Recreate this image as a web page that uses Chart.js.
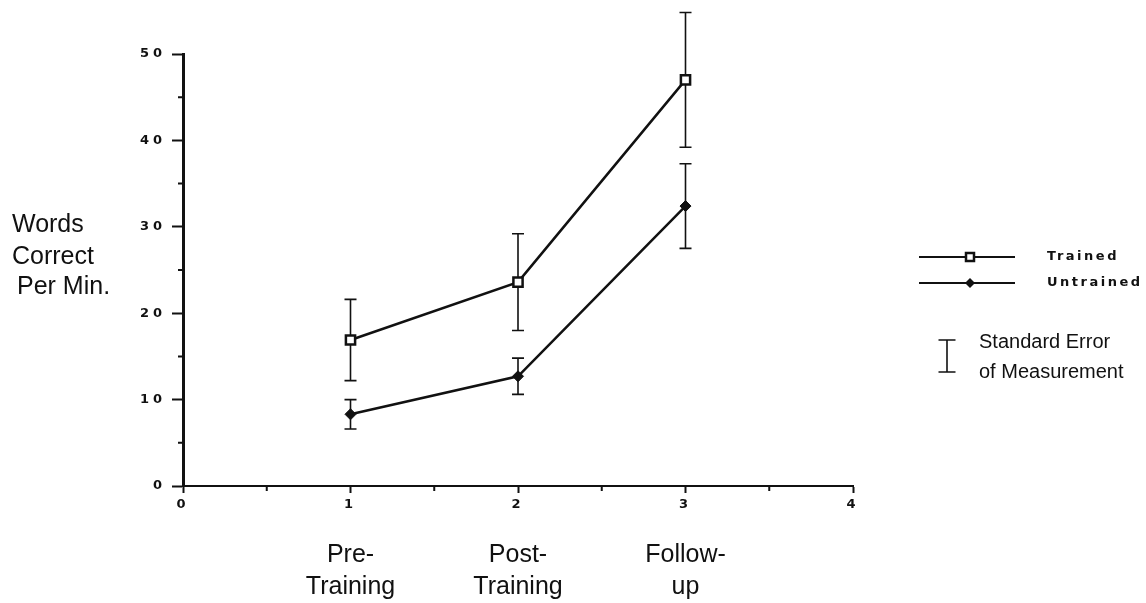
<!DOCTYPE html>
<html>
<head>
<meta charset="utf-8">
<script src="https://cdn.jsdelivr.net/npm/chart.js@4.4.1/dist/chart.umd.min.js"></script>
<style>
  html, body { margin: 0; padding: 0; background: #fff; }
  #wrap { width: 1146px; height: 603px; }
</style>
</head>
<body>
<div id="wrap"><canvas id="words-chart" width="1146" height="603"></canvas></div>
<script>
// Sessions and their phase names
const sessions = [1, 2, 3];
const phaseLabels = [['Pre-', 'Training'], ['Post-', 'Training'], ['Follow-', 'up']];

// Words correct per minute (means and standard errors)
const trainedMeans = [16.9, 23.6, 47.0];
const trainedSE = [4.7, 5.6, 7.8];
const untrainedMeans = [8.3, 12.7, 32.4];
const untrainedSE = [1.7, 2.1, 4.9];

// Axis ticks
const xTicks = [0, 1, 2, 3, 4];
const xMinorTicks = [0.5, 1.5, 2.5, 3.5];
const yTicks = [0, 10, 20, 30, 40, 50];
const yMinorTicks = [5, 15, 25, 35, 45];

const ink = '#111';
const tickFont = { family: '"DejaVu Sans", sans-serif', size: 13, weight: 'bold' };
const textFamily = '"Liberation Sans", Arial, Helvetica, sans-serif';

// vertical bars for the standard error, drawn under the markers
const errorBars = {
    id: 'errorBars',
    beforeDatasetsDraw(chart) {
        const { ctx, scales: { x, y } } = chart;
        ctx.save();
        ctx.strokeStyle = ink;
        ctx.lineWidth = 1.6;
        chart.data.datasets.forEach(ds => {
            ds.data.forEach((pt, i) => {
                const px = x.getPixelForValue(pt.x);
                const top = y.getPixelForValue(pt.y + ds.errors[i]);
                const bot = y.getPixelForValue(pt.y - ds.errors[i]);
                ctx.beginPath();
                ctx.moveTo(px, top); ctx.lineTo(px, bot);
                ctx.moveTo(px - 6, top); ctx.lineTo(px + 6, top);
                ctx.moveTo(px - 6, bot); ctx.lineTo(px + 6, bot);
                ctx.stroke();
            });
        });
        ctx.restore();
    }
};

// short minor ticks between the labelled ones
const minorTicks = {
    id: 'minorTicks',
    afterDraw(chart) {
        const { ctx, scales: { x, y }, chartArea } = chart;
        ctx.save();
        ctx.strokeStyle = ink;
        ctx.lineWidth = 2;
        ctx.beginPath();
        yMinorTicks.forEach(v => {
            const py = y.getPixelForValue(v);
            ctx.moveTo(chartArea.left - 5, py);
            ctx.lineTo(chartArea.left, py);
        });
        xMinorTicks.forEach(v => {
            const px = x.getPixelForValue(v);
            ctx.moveTo(px, chartArea.bottom);
            ctx.lineTo(px, chartArea.bottom + 5);
        });
        ctx.stroke();
        ctx.restore();
    }
};

// wide-set numbers on the axes
const tickSpacing = {
    id: 'tickSpacing',
    beforeDraw(chart) { chart.ctx.letterSpacing = '4px'; },
    beforeDatasetsDraw(chart) { chart.ctx.letterSpacing = '0px'; }
};

// axis caption on the left and the key on the right
const sideText = {
    id: 'sideText',
    afterDraw(chart) {
        const ctx = chart.ctx;
        ctx.save();
        ctx.fillStyle = ink;
        ctx.strokeStyle = ink;
        ctx.letterSpacing = '0px';
        ctx.textBaseline = 'alphabetic';
        ctx.textAlign = 'left';
        ctx.font = '25px ' + textFamily;
        ctx.fillText('Words', 12, 232);
        ctx.fillText('Correct', 12, 264);
        ctx.fillText('Per Min.', 17, 294);

        // key lines with markers
        ctx.lineWidth = 2;
        [257, 283].forEach(ly => {
            ctx.beginPath();
            ctx.moveTo(919, ly); ctx.lineTo(1015, ly);
            ctx.stroke();
        });
        ctx.lineWidth = 2.5;
        ctx.fillStyle = '#fff';
        ctx.fillRect(966, 253, 8, 8);
        ctx.strokeRect(966, 253, 8, 8);
        ctx.fillStyle = ink;
        ctx.beginPath();
        ctx.moveTo(970, 278); ctx.lineTo(975, 283); ctx.lineTo(970, 288); ctx.lineTo(965, 283);
        ctx.closePath();
        ctx.fill();

        ctx.font = 'bold 13px "DejaVu Sans", sans-serif';
        ctx.letterSpacing = '2.5px';
        ctx.textBaseline = 'middle';
        ctx.fillText('Trained', 1047, 257);
        ctx.fillText('Untrained', 1047, 283);

        // standard error symbol
        ctx.lineWidth = 1.6;
        ctx.beginPath();
        ctx.moveTo(947, 340); ctx.lineTo(947, 372);
        ctx.moveTo(938.5, 340); ctx.lineTo(955.5, 340);
        ctx.moveTo(938.5, 372); ctx.lineTo(955.5, 372);
        ctx.stroke();

        ctx.letterSpacing = '0px';
        ctx.textBaseline = 'alphabetic';
        ctx.font = '20px ' + textFamily;
        ctx.fillText('Standard Error', 979, 348);
        ctx.fillText('of Measurement', 979, 378);
        ctx.restore();
    }
};

const wordsConfig = {
    type: 'line',
    data: {
        datasets: [{
            label: 'Trained',
            data: sessions.map((s, i) => ({ x: s, y: trainedMeans[i] })),
            errors: trainedSE,
            borderColor: ink,
            borderWidth: 2.5,
            pointStyle: 'rect',
            pointRadius: 6.5,
            pointBackgroundColor: '#fff',
            pointBorderColor: ink,
            pointBorderWidth: 2.5,
            clip: false
        }, {
            label: 'Untrained',
            data: sessions.map((s, i) => ({ x: s, y: untrainedMeans[i] })),
            errors: untrainedSE,
            borderColor: ink,
            borderWidth: 2.5,
            pointStyle: 'rectRot',
            pointRadius: 5.5,
            pointBackgroundColor: ink,
            pointBorderColor: ink,
            pointBorderWidth: 1,
            clip: false
        }]
    },
    options: {
        responsive: false,
        animation: false,
        layout: { padding: { top: 54, right: 293, bottom: 0, left: 0 } },
        plugins: {
            legend: { display: false },
            tooltip: { enabled: false }
        },
        scales: {
            x: {
                type: 'linear',
                min: 0,
                max: 4,
                afterBuildTicks: s => { s.ticks = xTicks.map(v => ({ value: v })); },
                afterFit: s => { s.height = 30; },
                grid: { drawOnChartArea: false, tickLength: 7, tickColor: ink, tickWidth: 2 },
                border: { color: ink, width: 2 },
                ticks: { font: tickFont, color: ink, padding: 4, maxRotation: 0, autoSkip: false }
            },
            phase: {
                type: 'linear',
                position: 'bottom',
                min: 0,
                max: 4,
                afterBuildTicks: s => { s.ticks = sessions.map(v => ({ value: v })); },
                afterFit: s => { s.height = 87; },
                grid: { display: false, drawTicks: false },
                border: { display: false },
                ticks: {
                    z: 1,
                    callback: (v, i) => phaseLabels[i],
                    font: { family: textFamily, size: 25, lineHeight: 1.28 },
                    color: ink,
                    padding: 23,
                    maxRotation: 0,
                    autoSkip: false
                }
            },
            y: {
                min: 0,
                max: 50,
                afterBuildTicks: s => { s.ticks = yTicks.map(v => ({ value: v })); },
                afterFit: s => { s.width = 183; },
                grid: { drawOnChartArea: false, tickLength: 11, tickColor: ink, tickWidth: 2 },
                border: { color: ink, width: 3 },
                ticks: { font: tickFont, color: ink, padding: 6 }
            }
        }
    },
    plugins: [tickSpacing, errorBars, minorTicks, sideText]
};

const wordsChart = new Chart(document.getElementById('words-chart'), wordsConfig);
</script>
</body>
</html>
